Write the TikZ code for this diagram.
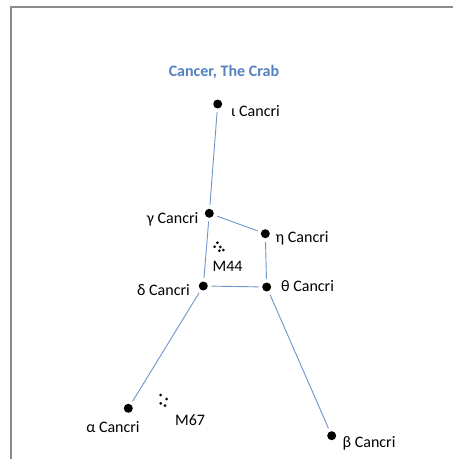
\documentclass[tikz,border=0pt]{standalone}
\usepackage{fontspec}
\setmainfont{Carlito}
\definecolor{titleblue}{RGB}{84,130,194}
\definecolor{lineblue}{RGB}{110,150,205}
\definecolor{framegray}{RGB}{140,140,140}
\begin{document}
\begin{tikzpicture}[x=1pt,y=-1pt,
  star/.style={circle,fill=black,inner sep=0pt,minimum size=9pt},
  lbl/.style={inner sep=0pt,font=\fontsize{16}{18}\selectfont},
  conn/.style={draw=lineblue,line width=0.9pt,shorten <=3.5pt,shorten >=3.5pt},
  cdot/.style={circle,fill=black,inner sep=0pt,minimum size=3pt}]
\useasboundingbox (0,0) rectangle (453,459);
\fill[white] (0,0) rectangle (453,459);
\draw[framegray,line width=1.5pt] (11,459) -- (11,7) -- (453,7);
% title
\node[inner sep=0pt,anchor=base,text=titleblue,font=\fontsize{16}{18}\selectfont\bfseries] (title) at (224,76.5) {Cancer, The Crab};
% stars
\node[star] (iota) at (217.7,104) {};
\node[star] (gamma) at (209.3,213.3) {};
\node[star] (eta) at (265.3,233.7) {};
\node[star] (delta) at (203.3,286) {};
\node[star] (theta) at (266.7,287) {};
\node[star] (alpha) at (128.3,408.3) {};
\node[star] (beta) at (331.7,435.7) {};
% labels
\node[lbl,anchor=base west] (liota) at (231,116.5) {ι Cancri};
\node[lbl,anchor=base east] (lgamma) at (198.5,223) {γ Cancri};
\node[lbl,anchor=base west] (leta) at (275.5,242) {η Cancri};
\node[lbl,anchor=base east] (ldelta) at (190,295) {δ Cancri};
\node[lbl,anchor=base west] (ltheta) at (281,291) {θ Cancri};
\node[lbl,anchor=base] (lalpha) at (113,432) {α Cancri};
\node[lbl,anchor=base west] (lbeta) at (342.5,447) {β Cancri};
\node[lbl,anchor=base west] (lm44) at (212.5,271.5) {M44};
\node[lbl,anchor=base west] (lm67) at (175,425) {M67};
% connectors
\draw[conn] (iota) -- (gamma);
\draw[conn] (gamma) -- (eta);
\draw[conn] (eta) -- (theta);
\draw[conn] (gamma) -- (delta);
\draw[conn] (delta) -- (theta);
\draw[conn] (delta) -- (alpha);
\draw[conn] (theta) -- (beta);
% M44 cluster
\node[cdot] (m44a) at (217.3,242.7) {};
\node[cdot] (m44b) at (214.7,246.7) {};
\node[cdot] (m44c) at (220.3,247) {};
\node[cdot] (m44d) at (223.3,250) {};
\node[cdot] (m44e) at (219.3,250.7) {};
% M67 cluster
\node[cdot] (m67a) at (160.7,395) {};
\node[cdot] (m67b) at (166.7,399) {};
\node[cdot] (m67c) at (160.7,403.3) {};
\node[cdot] (m67d) at (165,405.7) {};
\end{tikzpicture}
\end{document}
